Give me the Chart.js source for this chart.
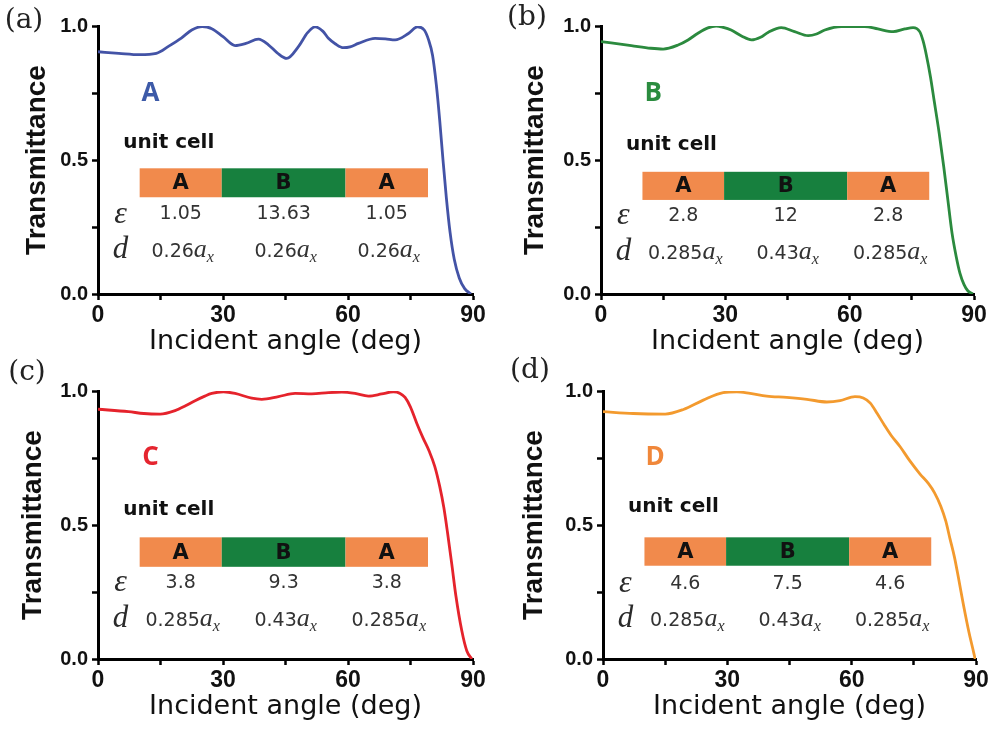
<!DOCTYPE html>
<html>
<head>
<meta charset="utf-8">
<script src="https://cdn.jsdelivr.net/npm/chart.js@4.4.0/dist/chart.umd.min.js"></script>
<style>
  html, body { margin: 0; padding: 0; background: #fff; }
  #wrap { position: relative; width: 997px; height: 729px; }
  canvas { position: absolute; left: 0; top: 0; }
</style>
</head>
<body>
<div id="wrap">
  <canvas id="chartA" width="997" height="729"></canvas>
  <canvas id="chartB" width="997" height="729"></canvas>
  <canvas id="chartC" width="997" height="729"></canvas>
  <canvas id="chartD" width="997" height="729"></canvas>
</div>
<script>
// transmittance vs incident angle
const anglesA = [0, 5, 10, 14, 17, 20, 22.5, 25, 27.3, 30, 32.9, 35.5, 38.5, 40.9, 43, 45.3, 48.1, 50.3, 52.1, 54, 55.3, 57, 58.9, 60.5, 62.5, 66.5, 69, 71.3, 74.5, 76.7, 78.3, 79.3, 80.3, 81.2, 82, 82.8, 83.6, 84.5, 85.5, 86.7, 88, 89.5];
const transA = [0.904, 0.898, 0.893, 0.898, 0.925, 0.955, 0.985, 0.998, 0.99, 0.96, 0.927, 0.935, 0.951, 0.93, 0.9, 0.879, 0.923, 0.975, 0.997, 0.98, 0.954, 0.933, 0.919, 0.922, 0.935, 0.954, 0.952, 0.948, 0.972, 0.997, 0.985, 0.95, 0.89, 0.78, 0.65, 0.5, 0.36, 0.23, 0.13, 0.06, 0.02, 0];

const anglesB = [0, 7.3, 12, 15, 18.6, 21, 23.4, 25.8, 27.8, 29.5, 31.4, 34, 36.3, 38.5, 40.3, 43.5, 46.7, 50, 52, 54, 58, 63.6, 66.8, 70.5, 73.3, 75.3, 76.9, 77.7, 78.5, 79.5, 80.4, 81.6, 82.7, 83.7, 84.7, 85.7, 86.6, 87.6, 88.5, 89.7];
const transB = [0.942, 0.927, 0.917, 0.914, 0.929, 0.948, 0.973, 0.993, 1.0, 0.995, 0.985, 0.962, 0.948, 0.958, 0.976, 0.994, 0.979, 0.964, 0.97, 0.985, 0.998, 0.998, 0.989, 0.979, 0.989, 0.994, 0.979, 0.945, 0.892, 0.81, 0.72, 0.6, 0.475, 0.35, 0.227, 0.14, 0.078, 0.035, 0.012, 0];

const anglesC = [0, 7.3, 11, 14.9, 18.5, 21, 23.3, 25.5, 27.3, 30.1, 32.9, 36.9, 39.3, 43.3, 47.3, 51.3, 55.3, 58.5, 61.7, 64.9, 68.1, 70.9, 72.5, 73.7, 75, 76.5, 78, 79.5, 80.8, 82, 83, 83.9, 84.9, 85.9, 87.3, 88.5, 89.7];
const transC = [0.932, 0.923, 0.916, 0.914, 0.927, 0.945, 0.964, 0.98, 0.991, 0.997, 0.991, 0.973, 0.969, 0.979, 0.991, 0.989, 0.994, 0.996, 0.991, 0.981, 0.989, 0.997, 0.991, 0.976, 0.94, 0.88, 0.825, 0.775, 0.72, 0.645, 0.565, 0.47, 0.355, 0.235, 0.106, 0.031, 0];

const anglesD = [0, 7.3, 15, 19.4, 24.2, 29, 32.3, 35.5, 39.5, 44.3, 49.2, 54, 57.2, 60.8, 62.8, 64.5, 66.2, 67.8, 69.5, 71.7, 74, 76.5, 78.5, 80, 81.5, 82.7, 83.7, 84.8, 85.8, 87, 88.3, 89.2, 89.8];
const transD = [0.923, 0.916, 0.914, 0.931, 0.966, 0.994, 0.997, 0.991, 0.981, 0.976, 0.969, 0.959, 0.964, 0.979, 0.974, 0.955, 0.915, 0.875, 0.835, 0.792, 0.74, 0.69, 0.655, 0.62, 0.57, 0.515, 0.45, 0.38, 0.3, 0.2, 0.1, 0.04, 0];

// unit cell layers (A | B | A), boundaries in degrees of the x axis
const layerEdges = [10, 29.7, 59.4, 79.2];
const layerNames = ["A", "B", "A"];
const epsA = ["1.05", "13.63", "1.05"];
const epsB = ["2.8", "12", "2.8"];
const epsC = ["3.8", "9.3", "3.8"];
const epsD = ["4.6", "7.5", "4.6"];
const thickA = ["0.26", "0.26", "0.26"];
const thickBCD = ["0.285", "0.43", "0.285"];

const SANS = "'DejaVu Sans', Verdana, sans-serif";
const ARIAL = "'Liberation Sans', Arial, sans-serif";
const SERIF = "'Liberation Serif', 'Times New Roman', serif";

const panels = [
  { id: "chartA", tag: "(a)", tagAt: [24, 21], name: "A", color: "#4353a6", nameColor: "#3d5aa8",
    x: anglesA, y: transA, eps: epsA, thick: thickA,
    area: { left: 98, top: 26, right: 473, bottom: 294 }, titlePad: 20,
    barY: [0.361, 0.469], epsY: 0.297, dY: 0.164, nameY: 0.746, cellY: 0.563 },
  { id: "chartB", tag: "(b)", tagAt: [527, 18], name: "B", color: "#2b8a3e", nameColor: "#2b8c3f",
    x: anglesB, y: transB, eps: epsB, thick: thickBCD,
    area: { left: 601, top: 26, right: 974, bottom: 294 }, titlePad: 15,
    barY: [0.351, 0.456], epsY: 0.291, dY: 0.157, nameY: 0.746, cellY: 0.556 },
  { id: "chartC", tag: "(c)", tagAt: [27, 373], name: "C", color: "#e5232c", nameColor: "#e5252f",
    x: anglesC, y: transC, eps: epsC, thick: thickBCD,
    area: { left: 98, top: 391, right: 473, bottom: 659 }, titlePad: 16,
    barY: [0.344, 0.454], epsY: 0.284, dY: 0.151, nameY: 0.75, cellY: 0.556 },
  { id: "chartD", tag: "(d)", tagAt: [530, 371], name: "D", color: "#f39a2e", nameColor: "#f0873a",
    x: anglesD, y: transD, eps: epsD, thick: thickBCD,
    area: { left: 603, top: 391, right: 976, bottom: 659 }, titlePad: 12,
    barY: [0.348, 0.454], epsY: 0.28, dY: 0.151, nameY: 0.75, cellY: 0.569 }
];

function insetPlugin(p) {
  return {
    id: "inset",
    beforeDatasetsDraw(chart) {
      const ctx = chart.ctx;
      const X = v => chart.scales.x.getPixelForValue(v);
      const Y = v => chart.scales.y.getPixelForValue(v);
      ctx.save();
      ctx.textAlign = "center";
      ctx.textBaseline = "middle";

      ctx.fillStyle = p.nameColor;
      ctx.font = "bold 26px 'Open Sans', " + SANS;
      ctx.fillText(p.name, X(12.6), Y(p.nameY));

      ctx.fillStyle = "#111";
      ctx.font = "bold 20px " + SANS;
      ctx.fillText("unit cell", X(17), Y(p.cellY));

      const top = Y(p.barY[1]), bot = Y(p.barY[0]);
      for (let i = 0; i < 3; i++) {
        const x0 = X(layerEdges[i]), x1 = X(layerEdges[i + 1]);
        ctx.fillStyle = i === 1 ? "#17803e" : "#f18a4c";
        ctx.fillRect(x0, top, x1 - x0, bot - top);
        ctx.fillStyle = "#111";
        ctx.font = "bold 21px " + SANS;
        ctx.fillText(layerNames[i], (x0 + x1) / 2, (top + bot) / 2 + 1);
      }

      // epsilon and thickness rows
      ctx.fillStyle = "#2a2a2a";
      ctx.font = "italic 32px " + SERIF;
      ctx.fillText("\u03b5", X(5.4), Y(p.epsY));
      ctx.font = "italic 31px " + SERIF;
      ctx.fillText("d", X(5.4), Y(p.dY));

      ctx.fillStyle = "#333";
      for (let i = 0; i < 3; i++) {
        const cx = X((layerEdges[i] + layerEdges[i + 1]) / 2);
        ctx.textAlign = "center";
        ctx.font = "19px " + SANS;
        ctx.fillText(p.eps[i], cx, Y(p.epsY));

        // "0.26 a_x"
        const num = p.thick[i];
        ctx.font = "19px " + SANS;
        const w1 = ctx.measureText(num).width;
        ctx.font = "italic 26px " + SERIF;
        const w2 = ctx.measureText("a").width;
        ctx.font = "italic 16px " + SERIF;
        const w3 = ctx.measureText("x").width;
        let x = cx - (w1 + w2 + w3) / 2 + 2;
        const base = Y(p.dY) + 7;
        ctx.textAlign = "left";
        ctx.textBaseline = "alphabetic";
        ctx.font = "19px " + SANS;
        ctx.fillText(num, x, base);
        x += w1;
        ctx.font = "italic 26px " + SERIF;
        ctx.fillText("a", x, base);
        x += w2;
        ctx.font = "italic 16px " + SERIF;
        ctx.fillText("x", x, base + 5);
        ctx.textBaseline = "middle";
      }
      ctx.restore();
    },
    afterDraw(chart) {
      const ctx = chart.ctx;
      ctx.save();
      ctx.fillStyle = "#222";
      ctx.font = "28px 'DejaVu Serif', serif";
      ctx.textAlign = "center";
      ctx.textBaseline = "middle";
      ctx.fillText(p.tag, p.tagAt[0], p.tagAt[1]);
      ctx.restore();
    }
  };
}

panels.forEach(p => {
  new Chart(document.getElementById(p.id), {
    type: "line",
    data: {
      datasets: [
        {
          data: p.x.map((a, i) => ({ x: a, y: p.y[i] })),
          borderColor: p.color,
          borderWidth: 2.8,
          pointRadius: 0,
          cubicInterpolationMode: "monotone",
          fill: false,
        },
      ],
    },
    options: {
      responsive: false,
      animation: false,
      events: [],
      layout: {
        padding: {
          left: p.area.left - 98,
          top: p.area.top,
          right: 997 - p.area.right,
          bottom: 729 - p.area.bottom - 70,
        },
      },
      plugins: {
        legend: { display: false },
        tooltip: { enabled: false },
      },
      scales: {
        x: {
          type: "linear",
          min: 0,
          max: 90,
          afterFit: s => { s.height = 70; },
          ticks: {
            stepSize: 15,
            autoSkip: false,
            maxRotation: 0,
            padding: 2,
            color: "#111",
            font: { family: ARIAL, size: 23, weight: "bold" },
            callback: v => (v % 30 === 0 ? String(v) : ""),
          },
          grid: { drawOnChartArea: false, tickLength: 6, tickWidth: 2.5, tickColor: "#000" },
          border: { color: "#000", width: 3 },
          title: {
            display: true,
            text: "Incident angle (deg)",
            color: "#111",
            font: { family: SANS, size: 27 },
            padding: { top: 0, bottom: 6 },
          },
        },
        y: {
          min: 0,
          max: 1,
          afterFit: s => { s.width = 98; },
          ticks: {
            stepSize: 0.25,
            autoSkip: false,
            padding: 4,
            color: "#111",
            font: { family: ARIAL, size: 20, weight: "bold" },
            callback: v => (Math.abs(v * 2 - Math.round(v * 2)) < 1e-9 ? v.toFixed(1) : ""),
          },
          grid: { drawOnChartArea: false, tickLength: 6, tickWidth: 2.5, tickColor: "#000" },
          border: { color: "#000", width: 3 },
          title: {
            display: true,
            text: "Transmittance",
            color: "#111",
            font: { family: ARIAL, size: 28, weight: "bold" },
            padding: { top: p.titlePad, bottom: 0 },
          },
        },
      },
    },
    plugins: [insetPlugin(p)],
  });
});
</script>
</body>
</html>
